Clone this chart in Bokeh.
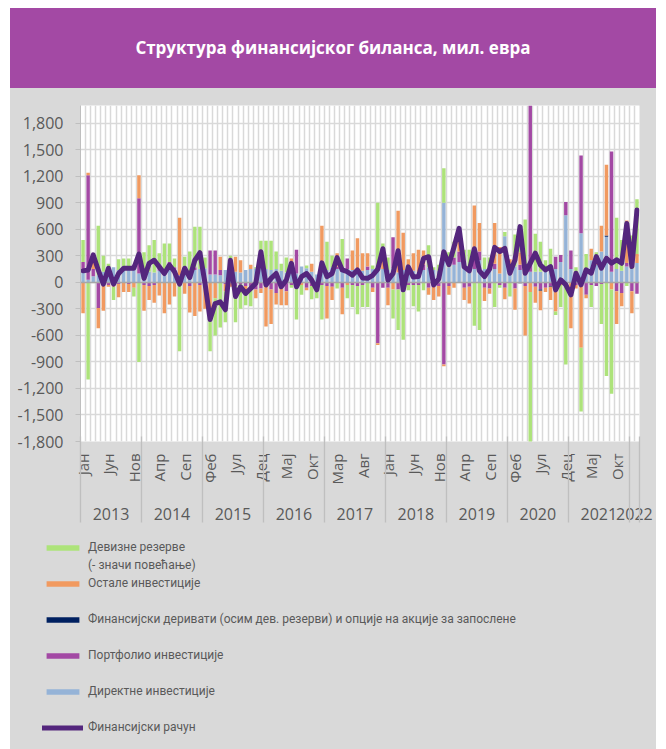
import numpy as np
from math import pi
from bokeh.plotting import figure
from bokeh.models import (ColumnDataSource, Range1d, LinearAxis, FixedTicker, Grid,
                          Legend, LegendItem, NumeralTickFormatter, Div)
from bokeh.layouts import column, row
from bokeh.embed import file_html
from bokeh.resources import INLINE

# ---------------- data ----------------
years = ["2013", "2014", "2015", "2016", "2017", "2018", "2019", "2020", "2021", "2022"]
months_in_year = [12, 12, 12, 12, 12, 12, 12, 12, 12, 2]
month_tick_pos = [0, 5, 10, 15, 20, 25, 30, 35, 40, 45, 50, 55, 60, 65, 70, 75, 80, 85, 90, 95, 100, 105]
month_tick_labels = ["Јан", "Јун", "Нов", "Апр", "Сеп", "Феб", "Јул", "Дец", "Мај", "Окт", "Мар",
                     "Авг", "Јан", "Јун", "Нов", "Апр", "Сеп", "Феб", "Јул", "Дец", "Мај", "Окт"]
y_ticks = [-1800, -1500, -1200, -900, -600, -300, 0, 300, 600, 900, 1200, 1500, 1800]

# Директне инвестиције
direct = [120, 30, 70, 80, 120, 180, 170, 140, 180, 160, 160, 100,
          110, 120, 110, 130, 110, 170, 120, 80, 130, 100, 140, 150,
          160, 90, 90, 80, 140, 150, 120, 110, 140, 150, 160, 170,
          150, 140, 150, 130, 110, 150, 100, 180, 160, 120, 90, 140,
          140, 170, 150, 140, 150, 140, 120, 130, 140, 150, 130, 150,
          140, 160, 110, 140, 130, 130, 120, 140, 170, 140, 130, 900,
          170, 200, 230, 170, 180, 150, 250, 150, 160, 150, 100, 520,
          140, 180, 140, 160, 120, 120, 120, 130, 130, 150, 230, 760,
          150, 100, 555, 150, 250, 200, 350, 515, 120, 150, 130, 180,
          150, 220]
# Портфолио инвестиције
portfolio = [110, 1180, 80, -290, 0, -30, 0, -20, 0, -20, 40, 850,
             -30, -40, -30, 70, 30, 60, 50, -30, 40, -40, 30, -30,
             -20, 270, 270, 60, -20, 20, -40, -20, -40, -60, -80, -70,
             -40, -80, -120, -60, -100, -30, 270, 0, -60, -40, -60, -30,
             -40, -50, 30, -60, 120, -30, -40, -30, 40, -60, -690, -60,
             -60, 350, -80, -50, -30, -30, -30, 60, -60, -40, -40, -930,
             -40, 80, 120, -60, -50, 180, 100, -60, -70, 60, -30, -60,
             0, -70, 60, -40, 1880, -50, -80, -60, -40, 140, 80, 150,
             210, -30, 880, -140, -30, -40, -20, 0, 1360, -100, -120, 40,
             -100, -130]
# Финансијски деривати
derivatives = [0] * 86 + [-10, 0, 0, 0, -15, 0, -10] + [0] * 10 + [15] + [0] * 6
# Остале инвестиције
other = [-350, 30, 100, -230, -320, -20, -50, -150, -110, -90, -60, 260,
         -290, -160, -200, -150, -350, -250, -160, 650, -130, -300, -380, -300,
         -280, -300, -180, 150, -80, -50, 170, 140, -60, 50, -100, -50,
         -460, -390, -130, -200, -160, 120, -20, -30, -30, 90, -40, 500,
         -370, -150, 150, -300, -30, 220, 380, 200, 150, -50, -20, 190,
         -200, -80, 700, 420, 130, 200, 250, 160, -80, -160, -120, -20,
         -100, -60, 160, -140, -190, 540, 320, -150, -60, 460, 300, -130,
         120, -240, 140, -560, -110, -180, -220, -50, -150, -330, -30, -30,
         -520, -40, -740, -40, 130, 40, 290, 800, -80, -370, -150, 480,
         -250, 100]
# Девизне резерве
reserves = [250, -1100, 50, 560, 180, 30, -150, 120, 90, 110, -100, -900,
            230, 300, 370, 130, 300, 210, 100, -750, 120, 250, 460, 480,
            120, -480, -420, -510, -350, 130, -410, -280, -160, -210, 10, 300,
            320, 330, 200, 80, 170, -30, -400, -110, 30, -150, -80, -390,
            320, 130, -70, 350, -150, -250, -320, -250, -280, 40, 770, 100,
            140, -330, -460, -600, -60, -240, -300, -90, 250, 30, 70, 390,
            170, 180, 100, 200, 190, -490, -540, 130, 120, -280, -30, 50,
            -160, 360, 290, 550, -1700, 430, 340, 120, 250, -40, -250, -900,
            0, 70, -720, 170, -250, 100, -450, -1060, -1180, 580, 350, -40,
            380, 620]
# Финансијски рачун
fin_account = [130, 140, 310, 140, -20, 160, -20, 100, 160, 160, 160, 320,
               45, 215, 250, 175, 100, 195, 120, -20, 160, 55, 250, 335,
               -10, -420, -240, -220, -310, 250, -160, -50, -125, -70, -10, 345,
               -30, 45, 100, -50, 25, 215, -50, 65, 100, 25, -85, 220,
               65, 100, 280, 140, 120, 80, 140, 50, 45, 80, 150, 380,
               25, 100, 357, -85, 175, 60, 65, 270, 290, -30, 40, 345,
               200, 400, 610, 175, 130, 380, 130, 65, 150, 395, 347, 385,
               103, 254, 630, 103, 216, 330, 197, 141, 178, -85, 28, -28,
               -141, 103, -28, 141, 103, 291, 160, 272, 216, 254, 216, 666,
               178, 817]

legend_labels = ["Девизне резерве", "(- значи повећање)", "Остале инвестиције",
                 "Финансијски деривати (осим дев. резерви) и опције на акције за запослене",
                 "Портфолио инвестиције", "Директне инвестиције", "Финансијски рачун"]

# ---------------- styling ----------------
C_RES = "#ADE37A"
C_OTH = "#F19A60"
C_DER = "#002060"
C_POR = "#A349A4"
C_DIR = "#95B3D7"
C_LINE = "#54267D"
TXT = "#595959"
FONT = "Open Sans"
GRAY = "#d9d9d9"

n = len(direct)
x = np.arange(n)

p = figure(width=646, height=447, x_range=Range1d(-0.5, n - 0.5), y_range=Range1d(-1800, 2000),
           output_backend="svg", toolbar_location=None, x_axis_type=None, y_axis_type=None,
           min_border_left=70, min_border_right=17, min_border_top=17, min_border_bottom=94,
           background_fill_color="white", border_fill_color=GRAY, outline_line_color=None)

# grids
p.add_layout(Grid(dimension=1, ticker=FixedTicker(ticks=y_ticks),
                  grid_line_color=GRAY, grid_line_width=1.5))
p.add_layout(Grid(dimension=0, ticker=FixedTicker(ticks=[i - 0.5 for i in range(n + 1)]),
                  grid_line_color=GRAY, grid_line_width=1.5))

# stacked bars (positive stack up, negative stack down), order from zero outward
series = [(direct, C_DIR), (portfolio, C_POR), (derivatives, C_DER), (other, C_OTH), (reserves, C_RES)]
pos_base = np.zeros(n)
neg_base = np.zeros(n)
for vals, col in series:
    v = np.array(vals, dtype=float)
    pos = np.where(v > 0, v, 0)
    neg = np.where(v < 0, v, 0)
    bottom = np.where(v >= 0, pos_base, neg_base)
    top = np.where(v >= 0, pos_base + pos, neg_base + neg)
    src = ColumnDataSource(dict(x=x, top=top, bottom=bottom))
    p.vbar(x="x", top="top", bottom="bottom", width=0.68, source=src,
           fill_color=col, line_color=None)
    pos_base = pos_base + pos
    neg_base = neg_base + neg

p.hspan(y=[0], line_color="#a6a6a6", line_width=1.5)
p.line(x=x, y=fin_account, line_color=C_LINE, line_width=5, line_join="round", line_cap="round")

# y axis
yaxis = LinearAxis(ticker=FixedTicker(ticks=y_ticks), formatter=NumeralTickFormatter(format="0,0"),
                   axis_line_color="#bfbfbf", major_tick_line_color="#bfbfbf",
                   major_tick_out=5, major_tick_in=0, minor_tick_line_color=None,
                   major_label_text_font=FONT, major_label_text_font_size="16px",
                   major_label_text_color=TXT, major_label_standoff=12)
p.add_layout(yaxis, "left")

# month axis
maxis = LinearAxis(ticker=FixedTicker(ticks=month_tick_pos),
                   major_label_overrides={t: l for t, l in zip(month_tick_pos, month_tick_labels)},
                   major_label_orientation=pi / 2,
                   axis_line_color=None, major_tick_line_color=None, minor_tick_line_color=None,
                   major_tick_out=0, major_tick_in=0, major_label_standoff=12,
                   major_label_text_font=FONT, major_label_text_font_size="15px",
                   major_label_text_color=TXT)
p.add_layout(maxis, "below")

# year axis
starts = np.concatenate([[0], np.cumsum(months_in_year)[:-1]])
year_mid = [float(s + m / 2 - 0.5) for s, m in zip(starts, months_in_year)]
yaxis2 = LinearAxis(ticker=FixedTicker(ticks=year_mid),
                    major_label_overrides={t: l for t, l in zip(year_mid, years)},
                    axis_line_color=None, major_tick_line_color=None, minor_tick_line_color=None,
                    major_tick_out=0, major_tick_in=0, major_label_standoff=20,
                    major_label_text_font=FONT, major_label_text_font_size="16px",
                    major_label_text_color=TXT)
p.add_layout(yaxis2, "below")

# year separators
bounds = [float(s - 0.5) for s in starts] + [float(n - 0.5)]
sep = LinearAxis(ticker=FixedTicker(ticks=bounds),
                 major_label_overrides={b: "" for b in bounds},
                 axis_line_color=None, major_tick_line_color="#bfbfbf", major_tick_line_width=1.3,
                 minor_tick_line_color=None, major_tick_out=0, major_tick_in=86,
                 major_label_standoff=0, major_label_text_font_size="0px")
p.add_layout(sep, "below")

# ---------------- legend panel ----------------
lg = figure(width=646, height=214, x_range=Range1d(0, 1), y_range=Range1d(0, 1),
            output_backend="svg", toolbar_location=None, x_axis_type=None, y_axis_type=None,
            min_border=0, min_border_left=0, min_border_right=0, min_border_top=0, min_border_bottom=0,
            background_fill_color=GRAY, border_fill_color=GRAY, outline_line_color=None)
# legend proxies (zero-height, never visible)
proxy = {}
for key, col in [("res", C_RES), ("oth", C_OTH), ("der", C_DER), ("por", C_POR), ("dir", C_DIR)]:
    proxy[key] = lg.vbar(x=[0.5], top=[0], bottom=[0], width=0.1, fill_color=col, line_color=None)
proxy["blank"] = lg.vbar(x=[0.5], top=[0], bottom=[0], width=0.1, fill_alpha=0, line_alpha=0)
proxy["line"] = lg.line(x=[0.2, 0.8], y=[np.nan, np.nan], line_color=C_LINE, line_width=5, line_cap="round")

items = [LegendItem(label=legend_labels[0], renderers=[proxy["res"]]),
         LegendItem(label=legend_labels[1], renderers=[proxy["blank"]]),
         LegendItem(label=legend_labels[2], renderers=[proxy["oth"]]),
         LegendItem(label=" ", renderers=[proxy["blank"]]),
         LegendItem(label=legend_labels[3], renderers=[proxy["der"]]),
         LegendItem(label=" ", renderers=[proxy["blank"]]),
         LegendItem(label=legend_labels[4], renderers=[proxy["por"]]),
         LegendItem(label=" ", renderers=[proxy["blank"]]),
         LegendItem(label=legend_labels[5], renderers=[proxy["dir"]]),
         LegendItem(label=" ", renderers=[proxy["blank"]]),
         LegendItem(label=legend_labels[6], renderers=[proxy["line"]])]
legend = Legend(items=items, location=(32, 13), orientation="vertical",
                glyph_width=41, glyph_height=7, label_height=18, label_standoff=5,
                spacing=0, padding=0, margin=0, background_fill_alpha=0, border_line_color=None,
                label_text_font="Roboto", label_text_font_size="12px",
                label_text_color=TXT)
lg.add_layout(legend, "center")

title = Div(text='<div style="width:646px;height:80px;background:#A349A4;color:#ffffff;'
                 'font-family:\'Open Sans\';font-weight:bold;font-size:17px;display:flex;'
                 'align-items:center;justify-content:center;">'
                 'Структура финансијског биланса, мил. евра</div>',
            width=646, height=80, margin=0)

layout = column(title, p, row(lg), spacing=0, margin=(8, 0, 0, 10),
                styles={"background-color": GRAY})
open("out.html", "w").write(file_html(layout, INLINE))
